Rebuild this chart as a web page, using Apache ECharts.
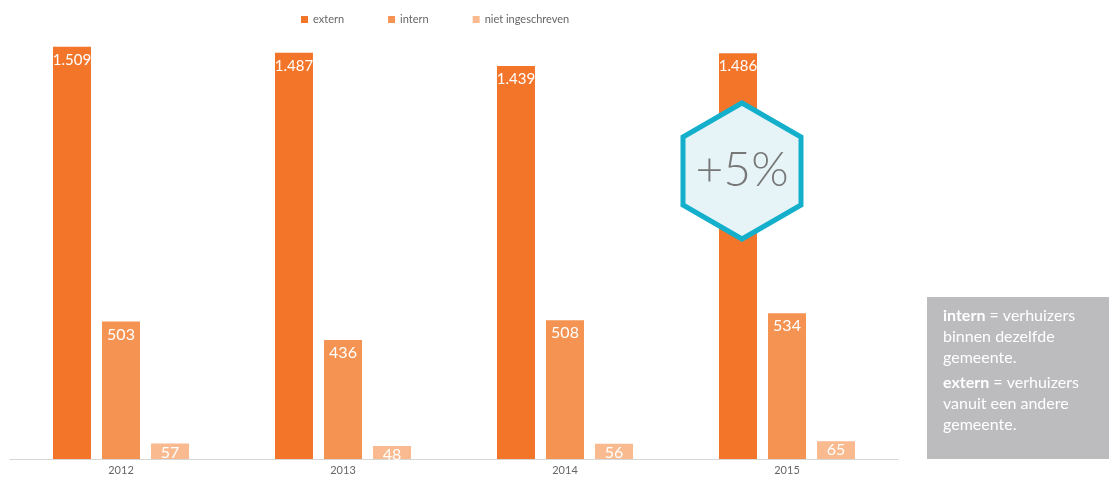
<!DOCTYPE html>
<html><head><meta charset="utf-8">
<script src="https://cdn.jsdelivr.net/npm/echarts@6/dist/echarts.min.js"></script>
<style>html,body{margin:0;padding:0;background:#fff}#c{width:1109px;height:477px}</style>
</head><body><div id="c"></div>
<script>
const years = ['2012','2013','2014','2015'];
const extern = [1509, 1487, 1439, 1486];
const intern = [503, 436, 508, 534];
const nietIngeschreven = [57, 48, 56, 65];
const seriesNames = ['extern','intern','niet ingeschreven'];
const colors = ['#F3752A','#F59352','#F9BA8F'];

const chart = echarts.init(document.getElementById('c'));
const fmt = p => p.value.toLocaleString('de-DE');
function mk(name, data, color, dist, fs){
  return {name, type:'bar', data, barWidth:38, barGap:'29%',
    itemStyle:{color},
    label:{show:true, position:'insideTop', distance:dist, color:'#fff', fontSize:fs, fontFamily:'Lato', formatter:fmt}};
}
chart.setOption({
  animation:false,
  textStyle:{fontFamily:'Lato'},
  legend:{top:9, left:296, itemWidth:7, itemHeight:7, itemGap:44, icon:'rect',
    textStyle:{color:'#666', fontSize:11, fontFamily:'Lato'}, data:seriesNames},
  grid:{left:10, right:211, top:22, bottom:18},
  xAxis:{type:'category', data:years,
    axisLine:{lineStyle:{color:'#d6d6d6'}}, axisTick:{show:false},
    axisLabel:{color:'#666', fontSize:11, margin:6}},
  yAxis:{type:'value', min:0, max:1600, show:false, splitLine:{show:false}},
  series:[mk(seriesNames[0], extern, colors[0], 6, 15), mk(seriesNames[1], intern, colors[1], 5, 16), mk(seriesNames[2], nietIngeschreven, colors[2], 1, 16)],
  graphic:[
    {type:'polygon', shape:{points:[[742,103],[801,137],[801,205],[742,239],[683,205],[683,137]]},
      style:{fill:'#E6F4F8', stroke:'#13AFCB', lineWidth:5}, z:100},
    {type:'text', x:742, y:171, style:{text:'+5%', fill:'#777', fontSize:48, fontWeight:300, fontFamily:'Lato', align:'center', verticalAlign:'middle'}, z:101},
    {type:'rect', shape:{x:927, y:297, width:182, height:162}, style:{fill:'#BCBCBF'}, z:100},
    {type:'text', x:943, y:305, z:101, style:{
      text:'{b|intern} = verhuizers\nbinnen dezelfde\ngemeente.\n{s|}\n{b|extern} = verhuizers\nvanuit een andere\ngemeente.',
      fill:'#fff', fontSize:16, fontFamily:'Lato', lineHeight:21,
      rich:{b:{fontWeight:'bold', fontSize:16, fill:'#fff', fontFamily:'Lato'}, s:{lineHeight:4, fontSize:4}}}}
  ]
});
</script></body></html>
